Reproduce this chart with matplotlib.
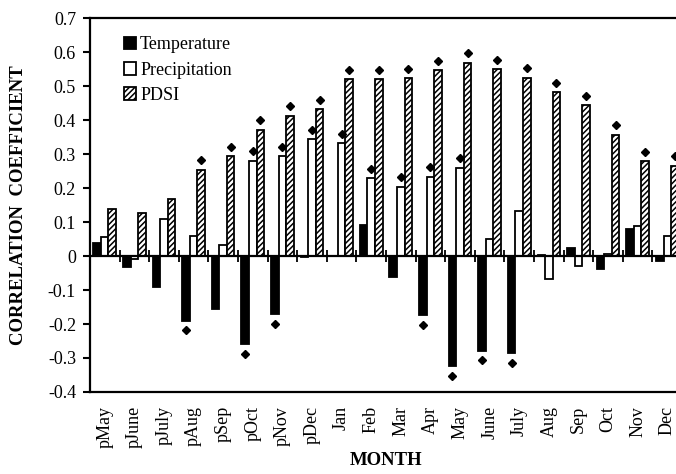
import matplotlib.pyplot as plt
import numpy as np

plt.rcParams.update({
    'font.family': 'Liberation Serif',
    'font.size': 13,
    'axes.linewidth': 1.6,
    'hatch.linewidth': 1.1,
})

months = ['pMay', 'pJune', 'pJuly', 'pAug', 'pSep', 'pOct', 'pNov', 'pDec',
          'Jan', 'Feb', 'Mar', 'Apr', 'May', 'June', 'July', 'Aug', 'Sep',
          'Oct', 'Nov', 'Dec']

temperature = [0.039, -0.031, -0.092, -0.191, -0.157, -0.260, -0.172, -0.004,
               0.0, 0.091, -0.063, -0.174, -0.324, -0.278, -0.286, 0.002, 0.025,
               -0.039, 0.080, -0.014]
precipitation = [0.057, -0.010, 0.110, 0.060, 0.032, 0.280, 0.294, 0.344,
                 0.331, 0.228, 0.204, 0.233, 0.260, 0.050, 0.132, -0.068, -0.030,
                 0.006, 0.088, 0.059]
pdsi = [0.137, 0.126, 0.168, 0.253, 0.294, 0.371, 0.413, 0.432,
        0.520, 0.520, 0.523, 0.546, 0.568, 0.549, 0.524, 0.482, 0.444,
        0.356, 0.279, 0.266]

# significant correlations (diamond markers)
temp_sig = [0, 0, 0, 1, 0, 1, 1, 0, 0, 0, 0, 1, 1, 1, 1, 0, 0, 0, 0, 0]
prec_sig = [0, 0, 0, 0, 0, 1, 1, 1, 1, 1, 1, 1, 1, 0, 0, 0, 0, 0, 0, 0]
pdsi_sig = [0, 0, 0, 1, 1, 1, 1, 1, 1, 1, 1, 1, 1, 1, 1, 1, 1, 1, 1, 1]

fig = plt.figure(figsize=(6.76, 4.74), dpi=100)
ax = fig.add_axes([0.133, 0.173, 0.876, 0.789])

x = np.arange(len(months))
w = 0.255

series = [(temperature, temp_sig, 'black', None, 'Temperature'),
          (precipitation, prec_sig, 'white', None, 'Precipitation'),
          (pdsi, pdsi_sig, 'white', '//////', 'PDSI')]

handles = []
for i, (vals, sig, fc, hatch, lab) in enumerate(series):
    pos = x + (i - 1) * w
    b = ax.bar(pos, vals, w, color=fc, edgecolor='black', linewidth=1.3,
               hatch=hatch, label=lab, zorder=2)
    handles.append(b)
    vals = np.array(vals)
    sig = np.array(sig, dtype=bool)
    ypos = vals + np.sign(vals) * 0.028
    ax.plot(pos[sig], ypos[sig], 'D', color='black', markersize=4.5, zorder=3)

ax.axhline(0, color='black', linewidth=1.6, zorder=4)

ax.set_xlim(-0.5, len(months) - 0.5)
ax.set_ylim(-0.4, 0.7)
ax.set_yticks(np.arange(-0.4, 0.71, 0.1))
ax.set_yticklabels(['-0.4', '-0.3', '-0.2', '-0.1', '0', '0.1', '0.2', '0.3',
                    '0.4', '0.5', '0.6', '0.7'])
ax.tick_params(axis='y', direction='out', length=5, width=1.5, pad=5)

ax.set_xticks(x)
ax.set_xticklabels(months, rotation=90)
ax.tick_params(axis='x', length=0, pad=10)

# tick marks crossing the zero line between months
sec = ax.secondary_xaxis(0.4 / 1.1)
sec.set_xticks(np.arange(0.5, len(months) - 0.5, 1))
sec.tick_params(axis='x', direction='inout', length=8, width=1.3, labelbottom=False)
sec.spines['bottom'].set_visible(False)

ax.spines['right'].set_visible(False)

ax.set_ylabel('CORRELATION  COEFFICIENT', fontweight='bold', fontsize=13.5, labelpad=15)
ax.set_xlabel('MONTH', fontweight='bold', fontsize=13.5, labelpad=3)

ax.legend(handles=handles, loc='upper left', bbox_to_anchor=(0.045, 0.97),
          frameon=False, handlelength=0.7, handleheight=0.7, handletextpad=0.2,
          labelspacing=0.45, fontsize=13, borderaxespad=0)

plt.savefig('out.png', dpi=100)
